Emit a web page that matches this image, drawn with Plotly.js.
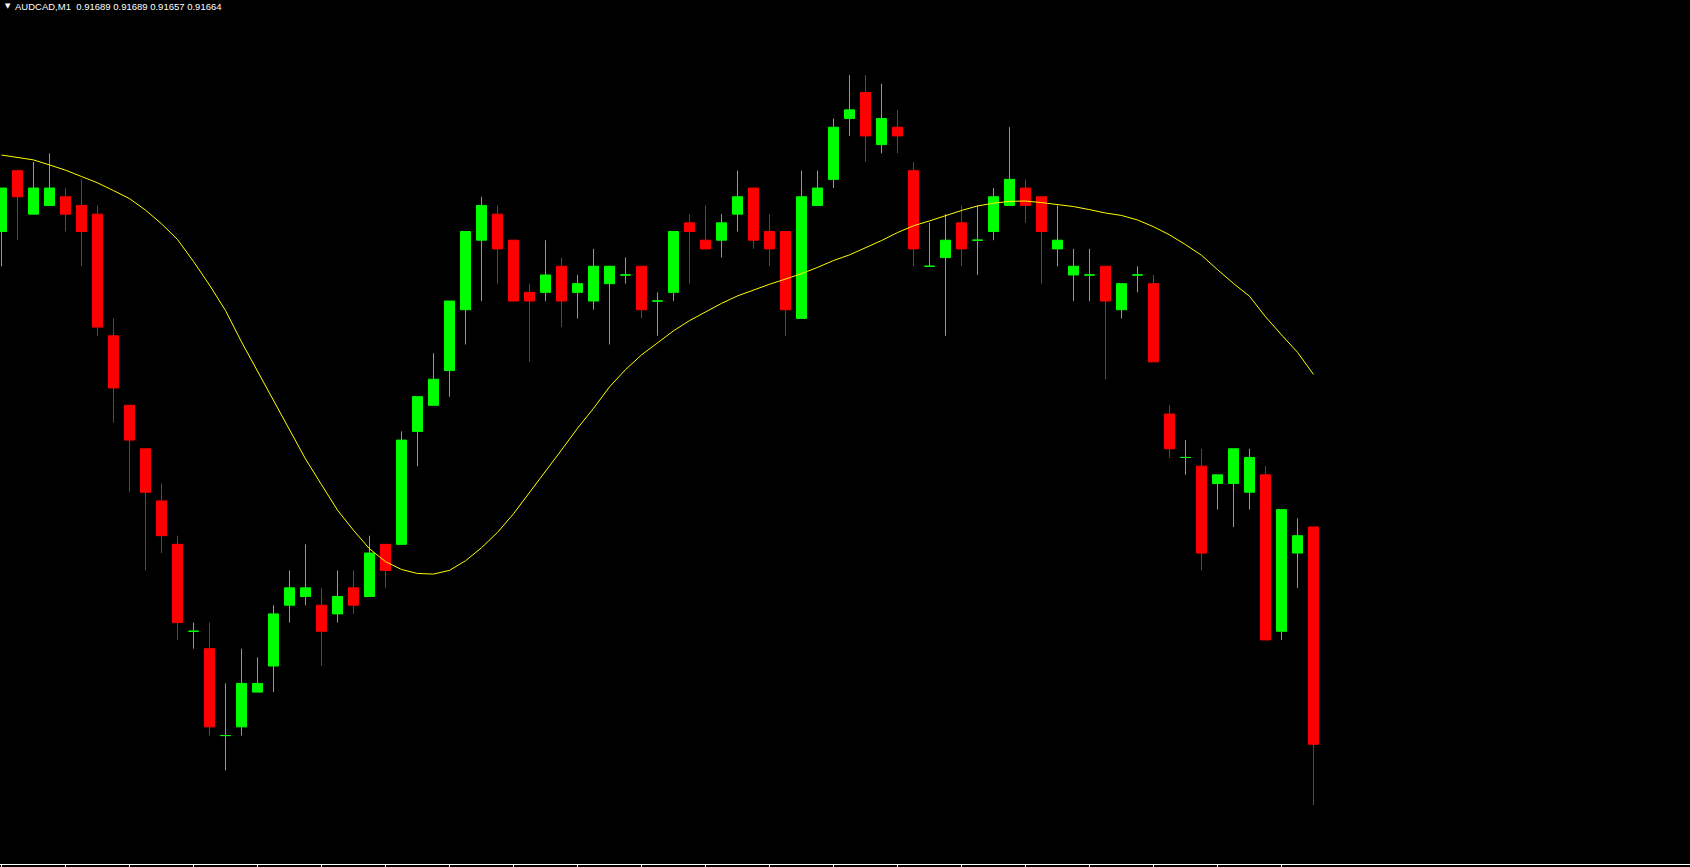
<!DOCTYPE html>
<html>
<head>
<meta charset="utf-8">
<script src="https://cdn.plot.ly/plotly-3.0.1.min.js"></script>
<style>
html,body{margin:0;padding:0;background:#000;overflow:hidden}
#chart{width:1690px;height:867px}
</style>
</head>
<body>
<div id="chart"></div>
<script>
// ---- data (AUDCAD, M1) ----
const symbol = "AUDCAD,M1";

const openP = [
0.91723,0.91730,0.91725,0.91726,0.91727,0.91726,0.91725,0.91711,0.91703,0.91698,
0.91692,0.91687,0.91677,0.91675,0.91665,0.91666,0.91670,0.91673,0.91680,0.91681,
0.91680,0.91679,0.91682,0.91681,0.91687,0.91687,0.91700,0.91703,0.91707,0.91714,
0.91722,0.91725,0.91722,0.91716,0.91716,0.91719,0.91716,0.91715,0.91717,0.91718,
0.91719,0.91715,0.91716,0.91724,0.91722,0.91722,0.91725,0.91728,0.91723,0.91723,
0.91713,0.91726,0.91729,0.91736,0.91739,0.91733,0.91735,0.91730,0.91719,0.91720,
0.91724,0.91722,0.91723,0.91726,0.91728,0.91727,0.91721,0.91718,0.91718,0.91719,
0.91714,0.91718,0.91717,0.91702,0.91697,0.91696,0.91694,0.91694,0.91693,0.91695,
0.91677,0.91686,0.91689];

const highP = [
0.91728,0.91730,0.91731,0.91732,0.91728,0.91729,0.91726,0.91713,0.91703,0.91698,
0.91694,0.91688,0.91678,0.91678,0.91671,0.91675,0.91674,0.91680,0.91684,0.91687,
0.91682,0.91684,0.91684,0.91688,0.91687,0.91700,0.91704,0.91709,0.91715,0.91723,
0.91727,0.91726,0.91722,0.91717,0.91722,0.91720,0.91718,0.91721,0.91719,0.91720,
0.91719,0.91716,0.91723,0.91725,0.91726,0.91725,0.91730,0.91728,0.91725,0.91723,
0.91730,0.91730,0.91736,0.91741,0.91741,0.91740,0.91737,0.91731,0.91724,0.91725,
0.91726,0.91726,0.91728,0.91735,0.91729,0.91727,0.91726,0.91721,0.91721,0.91719,
0.91717,0.91719,0.91718,0.91703,0.91699,0.91698,0.91695,0.91698,0.91698,0.91696,
0.91691,0.91690,0.91689];

const lowP = [
0.91719,0.91722,0.91725,0.91726,0.91723,0.91719,0.91711,0.91701,0.91693,0.91684,
0.91686,0.91676,0.91675,0.91665,0.91661,0.91665,0.91670,0.91670,0.91678,0.91680,
0.91673,0.91678,0.91679,0.91681,0.91682,0.91687,0.91696,0.91703,0.91704,0.91710,
0.91715,0.91717,0.91715,0.91708,0.91715,0.91712,0.91713,0.91714,0.91710,0.91717,
0.91713,0.91711,0.91715,0.91717,0.91721,0.91720,0.91723,0.91721,0.91719,0.91711,
0.91713,0.91726,0.91728,0.91734,0.91731,0.91732,0.91732,0.91719,0.91719,0.91711,
0.91719,0.91718,0.91722,0.91726,0.91724,0.91717,0.91719,0.91715,0.91715,0.91706,
0.91713,0.91716,0.91708,0.91697,0.91695,0.91684,0.91691,0.91689,0.91691,0.91676,
0.91676,0.91682,0.91657];

const closeP = [
0.91728,0.91727,0.91728,0.91728,0.91725,0.91723,0.91712,0.91705,0.91699,0.91693,
0.91688,0.91678,0.91677,0.91666,0.91665,0.91671,0.91671,0.91679,0.91682,0.91682,
0.91677,0.91681,0.91680,0.91686,0.91684,0.91699,0.91704,0.91706,0.91715,0.91723,
0.91726,0.91721,0.91715,0.91715,0.91718,0.91715,0.91717,0.91719,0.91719,0.91718,
0.91714,0.91715,0.91723,0.91723,0.91721,0.91724,0.91727,0.91722,0.91721,0.91714,
0.91727,0.91728,0.91735,0.91737,0.91734,0.91736,0.91734,0.91721,0.91719,0.91722,
0.91721,0.91722,0.91727,0.91729,0.91726,0.91723,0.91722,0.91719,0.91718,0.91715,
0.91717,0.91718,0.91708,0.91698,0.91697,0.91686,0.91695,0.91698,0.91697,0.91676,
0.91691,0.91688,0.91664];

// moving average line, read point by point at each bar
const maP = [
0.9173180,0.9173152,0.9173124,0.9173066,0.9173006,0.9172933,0.9172860,0.9172771,0.9172679,0.9172546,
0.9172389,0.9172208,0.9171955,0.9171684,0.9171391,0.9171030,0.9170691,0.9170353,0.9170015,0.9169683,
0.9169387,0.9169094,0.9168862,0.9168649,0.9168501,0.9168411,0.9168365,0.9168358,0.9168401,0.9168511,
0.9168661,0.9168838,0.9169052,0.9169296,0.9169529,0.9169786,0.9170036,0.9170265,0.9170512,0.9170711,
0.9170880,0.9171022,0.9171157,0.9171275,0.9171378,0.9171473,0.9171559,0.9171628,0.9171693,0.9171753,
0.9171815,0.9171887,0.9171966,0.9172031,0.9172109,0.9172196,0.9172288,0.9172366,0.9172422,0.9172486,
0.9172542,0.9172594,0.9172626,0.9172647,0.9172651,0.9172633,0.9172612,0.9172587,0.9172552,0.9172513,
0.9172485,0.9172433,0.9172355,0.9172262,0.9172149,0.9172027,0.9171861,0.9171702,0.9171555,0.9171319,
0.9171111,0.9170910,0.9170655];

// ---- build traces ----
const barIdx = openP.map((_, i) => i);
const bull = barIdx.filter(i => closeP[i] >= openP[i]);
const bear = barIdx.filter(i => closeP[i] < openP[i]);
const pick = (arr, idx) => idx.map(i => arr[i]);

const GREEN = '#00ff00', RED = '#ff0000';
function candleTrace(idx, color) {
  return {
    type: 'candlestick',
    x: idx,
    open: pick(openP, idx), high: pick(highP, idx),
    low: pick(lowP, idx), close: pick(closeP, idx),
    increasing: {line: {color: color, width: 1}, fillcolor: color},
    decreasing: {line: {color: color, width: 1}, fillcolor: color},
    whiskerwidth: 0,
    hoverinfo: 'skip',
    showlegend: false
  };
}

const maTrace = {
  type: 'scatter', mode: 'lines',
  x: barIdx, y: maP,
  line: {color: '#ffff00', width: 1, shape: 'linear'},
  hoverinfo: 'skip', showlegend: false
};

const last = openP.length - 1;
const header = symbol + '\u00a0\u00a0' +
  [openP[last], highP[last], lowP[last], closeP[last]].map(v => v.toFixed(5)).join(' ');

const tickBars = barIdx.filter(i => i % 4 === 0);

const layout = {
  width: 1690, height: 867,
  margin: {l: 0, r: 0, t: 0, b: 3, pad: 0},
  paper_bgcolor: '#000000', plot_bgcolor: '#000000',
  boxgap: 0.375, boxgroupgap: 0,
  showlegend: false,
  hovermode: false, dragmode: false,
  xaxis: {
    type: 'linear',
    range: [-0.09375, 105.53125],
    showgrid: false, zeroline: false,
    showline: true, linecolor: '#ffffff', linewidth: 1,
    ticks: 'outside', ticklen: 2, tickwidth: 1, tickcolor: '#ffffff',
    tickvals: tickBars, showticklabels: false,
    rangeslider: {visible: false}, fixedrange: true
  },
  yaxis: {
    range: [0.9165022, 0.9174964],
    showgrid: false, zeroline: false, showline: false,
    ticks: '', showticklabels: false, fixedrange: true
  },
  annotations: [
    {xref: 'paper', yref: 'paper', x: 0, y: 1, xanchor: 'left', yanchor: 'top',
     xshift: 3, yshift: 0, showarrow: false, text: '\u25BC',
     font: {family: 'DejaVu Sans', size: 7, color: '#ffffff'}},
    {xref: 'paper', yref: 'paper', x: 0, y: 1, xanchor: 'left', yanchor: 'top',
     xshift: 13, yshift: 1, showarrow: false, text: header,
     font: {family: 'Liberation Sans, Arial, sans-serif', size: 9.5, color: '#ffffff'}}
  ]
};

Plotly.newPlot('chart', [candleTrace(bull, GREEN), candleTrace(bear, RED), maTrace], layout,
  {displayModeBar: false, staticPlot: true, responsive: false});
</script>
</body>
</html>
